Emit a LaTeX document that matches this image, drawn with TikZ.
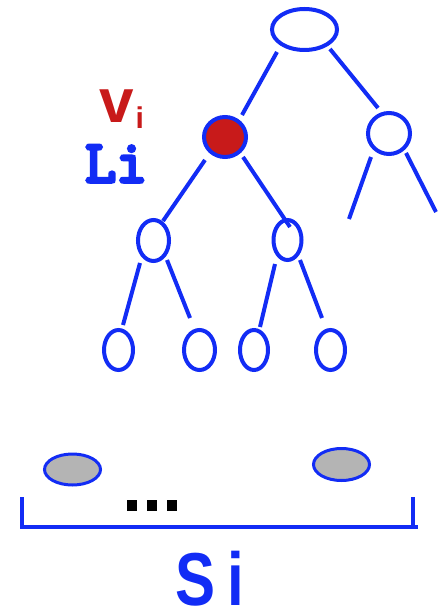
\documentclass[tikz,border=0pt]{standalone}
\usepackage{fontspec}
\setmainfont{Liberation Sans}
\usetikzlibrary{shapes.geometric,calc}

\definecolor{tblue}{RGB}{18,44,245}
\definecolor{tred}{RGB}{200,26,26}
\definecolor{tgray}{RGB}{180,180,180}

% fill-and-stroke text rendering for a heavier slab face
\newcommand{\heavytext}[2]{\special{pdf:literal direct 2 Tr #1 w}#2\special{pdf:literal direct 0 Tr}}

\tikzset{
  vertex/.style={ellipse, draw=tblue, line width=4pt, inner sep=0pt, outer sep=0pt},
  edge/.style={draw=tblue, line width=4pt},
  member/.style={ellipse, draw=tblue, fill=tgray, line width=3pt, inner sep=0pt, outer sep=0pt,
                 minimum width=56pt, minimum height=31pt},
  dotbox/.style={fill=black, inner sep=0pt, minimum width=10pt, minimum height=11pt},
}

\begin{document}
\begin{tikzpicture}[x=1pt, y=-1pt]
  \useasboundingbox (0,0) rectangle (438,609);

  % tree vertices
  \node[vertex, minimum width=65pt, minimum height=41pt] (root) at (304.5,29.5) {};
  \node[vertex, fill=tred, minimum width=42pt, minimum height=40pt] (vi) at (225,137) {};
  \node[vertex, minimum width=42pt, minimum height=41pt] (rc) at (389,133.5) {};
  \node[vertex, minimum width=31pt, minimum height=41pt] (la) at (153.5,240.5) {};
  \node[vertex, minimum width=28pt, minimum height=40pt] (lb) at (287.5,240) {};
  \node[vertex, minimum width=29pt, minimum height=40pt] (f1) at (118.5,350) {};
  \node[vertex, minimum width=31pt, minimum height=40pt] (f2) at (199.5,350) {};
  \node[vertex, minimum width=28pt, minimum height=40pt] (f3) at (254,350) {};
  \node[vertex, minimum width=29pt, minimum height=40pt] (f4) at (330.5,350) {};

  % loose ends below the right child
  \coordinate (rl) at (349,219);
  \coordinate (rr) at (436,212);

  % tree edges (drawn with small gaps to the vertices)
  \draw[edge] ($(root)+(-27.5,22.5)$) -- ($(vi)+(17,-22)$);
  \draw[edge] ($(root)+(25.5,19.5)$) -- ($(rc)+(-11,-25.5)$);
  \draw[edge] ($(vi)+(-20,23)$) -- ($(la)+(9.5,-19.5)$);
  \draw[edge] ($(vi)+(18,20)$) -- ($(lb)+(2.5,-13)$);
  \draw[edge] ($(rc)+(-18,23.5)$) -- (rl);
  \draw[edge] ($(rc)+(17,19.5)$) -- (rr);
  \draw[edge] ($(la)+(-13.5,22.5)$) -- ($(f1)+(4.5,-25)$);
  \draw[edge] ($(la)+(13.5,19.5)$) -- ($(f2)+(-9.5,-32)$);
  \draw[edge] ($(lb)+(-12.5,24)$) -- ($(f3)+(6,-23)$);
  \draw[edge] ($(lb)+(12.5,20)$) -- ($(f4)+(-8.5,-32)$);

  % labels of the marked vertex
  \node[anchor=base west, inner sep=0pt, text=tred] (vlabel) at (99,123)
    {\fontsize{62}{62}\selectfont\bfseries v\kern2pt\raisebox{-6pt}{\fontsize{30}{30}\selectfont i}};
  \node[anchor=base west, inner sep=0pt, text=tblue] (llabel) at (85,182)
    {\fontsize{60}{60}\ttfamily\heavytext{3.5}{Li}};

  % members of the set
  \node[member] (m1) at (72.5,469.5) {};
  \node[member, minimum height=32pt] (m2) at (341.5,464.5) {};

  % ellipsis dots
  \node[dotbox] (d1) at (132,505.5) {};
  \node[dotbox] (d2) at (152,505.5) {};
  \node[dotbox] (d3) at (172,505.5) {};

  % bracket under the set
  \draw[tblue, line width=4pt] (22,497) -- (22,527) -- (418,527);
  \draw[tblue, line width=4pt] (413,497) -- (413,529);

  % set label
  \node[anchor=base, inner sep=0pt, text depth=0pt, text=tblue] (slabel) at (210,605)
    {\scalebox{0.8}[1]{\fontsize{75}{75}\selectfont\bfseries S\kern15pt i}};
\end{tikzpicture}
\end{document}
